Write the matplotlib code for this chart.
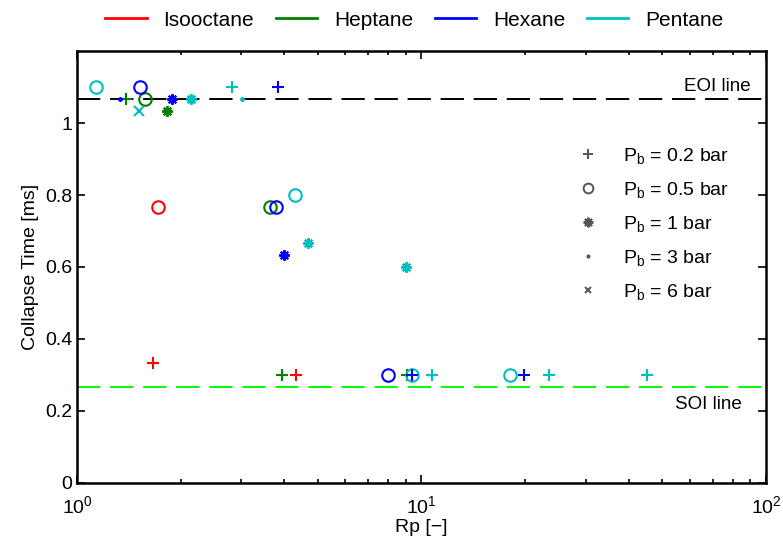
import matplotlib
matplotlib.use("Agg")
import matplotlib.pyplot as plt
from matplotlib.lines import Line2D

plt.rcParams['font.family'] = ['Liberation Sans', 'DejaVu Sans']
plt.rcParams['mathtext.fontset'] = 'custom'
plt.rcParams['mathtext.rm'] = 'Liberation Sans'
plt.rcParams['mathtext.it'] = 'Liberation Sans'

# fuels and their colours
fuels = ['Isooctane', 'Heptane', 'Hexane', 'Pentane']
fuel_colors = ['#ff0000', '#008000', '#0000ff', '#00bfbf']
draw_order = ['Isooctane', 'Heptane', 'Pentane', 'Hexane']

# back pressures [bar] and markers
pressures = [0.2, 0.5, 1, 3, 6]
pressure_markers = ['+', 'o', (8, 2, 0), '.', 'x']

# measured points: fuel, back pressure, Rp, collapse time [ms]
pt_fuel = ['Isooctane', 'Isooctane', 'Isooctane',
           'Heptane', 'Heptane', 'Heptane', 'Heptane', 'Heptane', 'Heptane',
           'Hexane', 'Hexane', 'Hexane', 'Hexane', 'Hexane', 'Hexane',
           'Hexane', 'Hexane', 'Hexane',
           'Pentane', 'Pentane', 'Pentane', 'Pentane', 'Pentane', 'Pentane',
           'Pentane', 'Pentane', 'Pentane', 'Pentane', 'Pentane', 'Pentane',
           'Pentane']
pt_pb = [0.2, 0.2, 0.5,
         0.2, 0.5, 1, 0.5, 0.2, 0.2,
         3, 0.5, 0.2, 1, 0.5, 1, 0.5, 0.2, 0.2,
         0.5, 6, 1, 0.2, 3, 0.5, 1, 1, 0.5, 0.2, 0.5, 0.2, 0.2]
pt_rp = [1.66, 4.31, 1.72,
         1.39, 1.576, 1.83, 3.63, 3.93, 9.1,
         1.33, 1.52, 3.82, 1.89, 3.78, 3.99, 8.01, 9.4, 19.9,
         1.133, 1.51, 2.14, 2.82, 3.02, 4.28, 4.68, 9.03, 9.4, 10.7,
         18.07, 23.5, 45.1]
pt_time = [0.333, 0.3, 0.767,
           1.067, 1.067, 1.033, 0.767, 0.3, 0.3,
           1.067, 1.1, 1.1, 1.067, 0.767, 0.633, 0.3, 0.3, 0.3,
           1.1, 1.033, 1.067, 1.1, 1.067, 0.8, 0.667, 0.6, 0.3, 0.3,
           0.3, 0.3, 0.3]

# start / end of injection [ms]
soi = 0.267
eoi = 1.067

fig = plt.figure(figsize=(7.83, 5.45), dpi=100)
ax = fig.add_axes([0.0983, 0.1138, 0.8800, 0.7926])

ax.axhline(eoi, color='black', lw=1.4, dashes=(12, 5), zorder=1)
ax.axhline(soi, color='#00ff00', lw=1.4, dashes=(12, 5), zorder=1)

for fuel in draw_order:
    color = fuel_colors[fuels.index(fuel)]
    for pb, mk in zip(pressures, pressure_markers):
        xs = [r for f, p, r in zip(pt_fuel, pt_pb, pt_rp) if f == fuel and p == pb]
        ys = [t for f, p, t in zip(pt_fuel, pt_pb, pt_time) if f == fuel and p == pb]
        if not xs:
            continue
        size = {'+': 9, 'o': 9, '.': 4, 'x': 7}.get(mk, 7.5)
        ax.plot(xs, ys, ls='none', marker=mk, ms=size, mfc='none',
                mec=color, mew=1.5, zorder=3)

ax.set_xscale('log')
ax.set_xlim(1, 100)
ax.set_ylim(0, 1.2)
ax.set_yticks([0, 0.2, 0.4, 0.6, 0.8, 1])
ax.set_yticklabels(['0', '0.2', '0.4', '0.6', '0.8', '1'])
ax.tick_params(which='both', direction='in', top=True, right=True,
               labelsize=14, width=1.2)
ax.tick_params(axis='x', pad=9)
ax.tick_params(which='major', length=6)
ax.tick_params(which='minor', length=3)
for s in ax.spines.values():
    s.set_linewidth(1.8)

ax.set_xlabel('Rp [\u2212]', fontsize=14, labelpad=1)
ax.set_ylabel('Collapse Time [ms]', fontsize=14, labelpad=4)

ax.text(0.977, eoi + 0.012, 'EOI line', transform=ax.get_yaxis_transform(),
        ha='right', va='bottom', fontsize=13.5)
ax.text(0.965, soi - 0.025, 'SOI line', transform=ax.get_yaxis_transform(),
        ha='right', va='top', fontsize=13.5)

# back-pressure legend inside the axes
p_handles = [Line2D([], [], ls='none', marker=mk, mfc='none', mec='#555555',
                    ms={'+': 7, 'o': 7, '.': 3, 'x': 5}.get(mk, 7), mew=1.4)
             for mk in pressure_markers]
p_labels = [r'P$_\mathregular{b}$ = %g bar' % p for p in pressures]
ax.legend(p_handles, p_labels, loc='upper left', bbox_to_anchor=(0.7, 0.82),
          frameon=False, fontsize=14, handlelength=1.2, handletextpad=1.2,
          labelspacing=0.72)

# fuel legend above the axes
f_handles = [Line2D([], [], color=c, lw=2) for c in fuel_colors]
fig.legend(f_handles, fuels, loc='upper center', bbox_to_anchor=(0.529, 1.015),
           ncol=4, frameon=False, fontsize=15, handlelength=2.0,
           handletextpad=0.8, columnspacing=1.03)

fig.savefig('out.png', dpi=100)
